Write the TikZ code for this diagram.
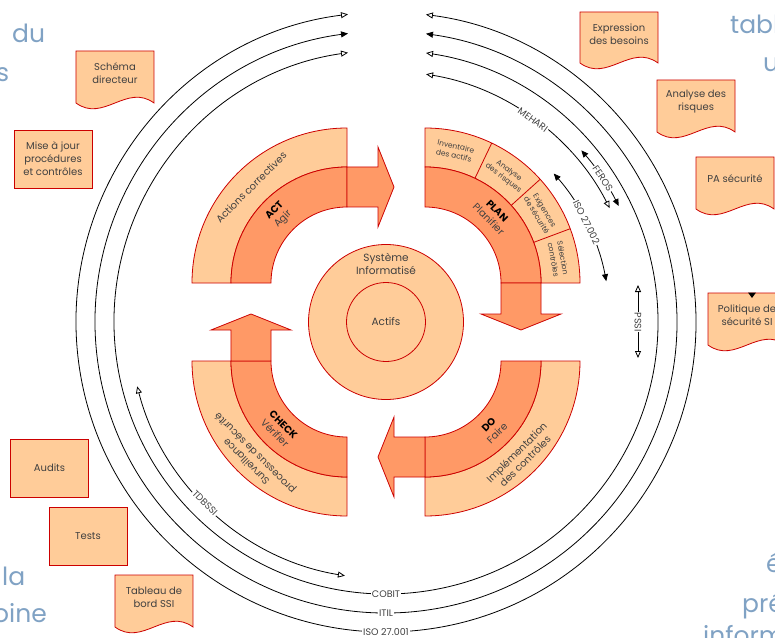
\documentclass[tikz,border=0pt]{standalone}
\usepackage{fontspec}
\setmainfont{Poppins}
\usetikzlibrary{arrows.meta}
\definecolor{lite}{HTML}{FFCC99}
\definecolor{dark}{HTML}{FF9966}
\definecolor{bord}{HTML}{CC0000}
\definecolor{txt}{HTML}{404040}
\definecolor{bgtxt}{RGB}{128,162,196}
\newcommand\docbox[7]{% name, x1, x2, top, baseline, text, extra
  \draw[docst] (#2,#4) -- (#3,#4) -- (#3,#5) .. controls ({#3-0.35*(#3-#2)},{#5+20}) and ({#2+0.35*(#3-#2)},{#5-20}) .. (#2,#5) -- cycle;
  \node[boxtext] (#1) at ({(#2+#3)/2},{#4-22}) {#6};}
\begin{document}
\begin{tikzpicture}[x=1pt,y=1pt,
  lband/.style={fill=lite,draw=bord,line width=0.8pt},
  dband/.style={fill=dark,draw=bord,line width=0.8pt},
  phase/.style={text=txt,font=\fontsize{10}{12}\selectfont,align=center,inner sep=0pt},
  cell/.style={text=txt,font=\fontsize{7.5}{9.5}\selectfont,align=center,inner sep=0pt},
  docst/.style={fill=lite,draw=bord,line width=0.8pt},
  boxtext/.style={text=txt,font=\fontsize{10}{13}\selectfont,align=center,inner sep=0pt},
  rectbox/.style={fill=lite,draw=bord,line width=0.8pt,minimum width=78pt,minimum height=58pt,text=txt,font=\fontsize{10}{13}\selectfont,align=center,inner sep=0pt},
  ring/.style={line width=0.8pt,black},
  oa/.style={arrows={Triangle[open,length=7pt,width=6pt]-Triangle[open,length=7pt,width=6pt]}},
  fa/.style={arrows={Triangle[length=7pt,width=6pt]-Triangle[length=7pt,width=6pt]}},
  arclbl/.style={fill=white,text=txt,font=\fontsize{9.5}{10}\selectfont,inner sep=1pt},
  frag/.style={text=bgtxt,font=\fontsize{25}{28}\selectfont,inner sep=0pt,anchor=base west}
]
\useasboundingbox (-386,-315) rectangle (389,322);
\fill[white] (-386,-315) rectangle (389,322);

% background text fragments
\node[frag] (f1) at (-374,279) {du};
\node[frag] (f2) at (-390,240) {s};
\node[frag] (f3) at (344,288) {tabl};
\node[frag] (f4) at (377,250) {u};
\node[frag] (f5) at (-384,-263) {la};
\node[frag] (f6) at (-393,-300) {oine};
\node[frag] (f7) at (380,-250) {é};
\node[frag] (f8) at (356,-290) {pré};
\node[frag] (f9) at (317,-322) {inform};

% big rings
\draw[ring,oa] (98.03:272) arc[start angle=98.03,end angle=441.54,radius=272];
\draw[ring,fa] (97.5:291) arc[start angle=97.5,end angle=442.1,radius=291];
\draw[ring,oa] (97.04:310) arc[start angle=97.04,end angle=442.6,radius=310];
\node[arclbl] (cobit) at (270:272) {COBIT};
\node[arclbl] (itil) at (270:291) {ITIL};
\node[arclbl] (iso1) at (270:310) {ISO 27.001};

% inner method arcs
\draw[ring,oa] (80.8:251) arc[start angle=80.8,end angle=27,radius=251];
\node[arclbl,rotate=-36] (mehari) at (54:250) {MEHARI};
\draw[ring,fa] (41.3:260) arc[start angle=41.3,end angle=26.5,radius=260];
\node[arclbl,rotate=-56.5] (feros) at (33.5:260) {FEROS};
\draw[ring,fa] (41.5:224) arc[start angle=41.5,end angle=10.5,radius=224];
\node[arclbl,rotate=-63.5] (iso2) at (26.5:224) {ISO 27.002};
\coordinate (pssiA) at (252,37);
\coordinate (pssiB) at (252,-36);
\draw[ring,oa] (pssiA) -- (pssiB);
\node[arclbl,rotate=-90] (pssi) at (252,0) {PSSI};
\draw[ring,oa] (194.5:257) arc[start angle=194.5,end angle=260.8,radius=257];
\node[arclbl,rotate=-45] (tdbssi) at (225:256) {TDBSSI};

% ACT
\begin{scope}[shift={(-39,39)}]
  \path[lband] (90:155) arc[start angle=90,end angle=180,radius=155] -- (180:116) arc[start angle=180,end angle=90,radius=116] -- cycle;
  \path[dband] (90:116) arc[start angle=90,end angle=180,radius=116] -- (180:76) arc[start angle=180,end angle=90,radius=76] -- cycle;
  \node[phase,rotate=45] (actl) at (135:135.5) {Actions correctives};
  \node[phase,rotate=45] (act) at (135:96) {\textbf{\color{black}ACT}\\Agir};
\end{scope}
\path[dband] (-39,115) -- (-8,115) -- (-8,95) -- (8,135) -- (-8,175) -- (-8,155) -- (-39,155) -- cycle;

% PLAN
\begin{scope}[shift={(39,39)}]
  \path[lband] (0:155) arc[start angle=0,end angle=90,radius=155] -- (90:116) arc[start angle=90,end angle=0,radius=116] -- cycle;
  \path[dband] (0:116) arc[start angle=0,end angle=90,radius=116] -- (90:76) arc[start angle=90,end angle=0,radius=76] -- cycle;
  \draw[bord,line width=0.8pt] (64.5:116) -- (64.5:155) (42:116) -- (42:155) (20.5:116) -- (20.5:155);
  \node[cell,rotate=-12.75] (c1) at (77.25:135.5) {Inventaire\\des actifs};
  \node[cell,rotate=-36.75] (c2) at (53.25:135.5) {Analyse\\des risques};
  \node[cell,rotate=-58.75] (c3) at (31.25:135.5) {Exigences\\de sécurité};
  \node[cell,rotate=-79.75] (c4) at (10.25:135.5) {Sélection\\contrôles};
  \node[phase,rotate=-45] (plan) at (45:96) {\textbf{\color{black}PLAN}\\Planifier};
\end{scope}
\path[dband] (115,39) -- (115,8) -- (95,8) -- (135,-8) -- (175,8) -- (155,8) -- (155,39) -- cycle;

% DO
\begin{scope}[shift={(39,-39)}]
  \path[lband] (270:155) arc[start angle=270,end angle=360,radius=155] -- (0:116) arc[start angle=360,end angle=270,radius=116] -- cycle;
  \path[dband] (270:116) arc[start angle=270,end angle=360,radius=116] -- (0:76) arc[start angle=360,end angle=270,radius=76] -- cycle;
  \node[phase,rotate=45] (dol) at (-45:135.5) {Implémentation\\des contrôles};
  \node[phase,rotate=45] (do) at (-45:96) {\textbf{\color{black}DO}\\Faire};
\end{scope}
\path[dband] (39,-115) -- (8,-115) -- (8,-95) -- (-8,-135) -- (8,-175) -- (8,-155) -- (39,-155) -- cycle;

% CHECK
\begin{scope}[shift={(-39,-39)}]
  \path[lband] (180:155) arc[start angle=180,end angle=270,radius=155] -- (270:116) arc[start angle=270,end angle=180,radius=116] -- cycle;
  \path[dband] (180:116) arc[start angle=180,end angle=270,radius=116] -- (270:76) arc[start angle=270,end angle=180,radius=76] -- cycle;
  \node[phase,rotate=135] (checkl) at (225:135.5) {Surveillance\\processus de sécurité};
  \node[phase,rotate=-45] (check) at (225:96) {\textbf{\color{black}CHECK}\\Vérifier};
\end{scope}
\path[dband] (-115,-39) -- (-115,-8) -- (-95,-8) -- (-135,8) -- (-175,-8) -- (-155,-8) -- (-155,-39) -- cycle;

% centre
\node[circle,fill=lite,draw=bord,line width=0.8pt,minimum size=155pt,inner sep=0pt] (si) at (0,0) {};
\node[circle,draw=bord,line width=0.8pt,minimum size=79pt,inner sep=0pt] (actifs) at (0,0) {};
\node[boxtext,font=\fontsize{10.5}{13}\selectfont] (sitxt) at (0,58) {Système\\Informatisé};
\node[boxtext,font=\fontsize{10.5}{13}\selectfont] (actxt) at (0,0) {Actifs};

% documents
\docbox{schema}{-310}{-232}{271}{219}{Schéma\\directeur}{}
\docbox{expr}{194}{272}{310}{259}{Expression\\des besoins}{}
\docbox{anarisk}{271}{349}{242}{190}{Analyse des\\risques}{}
\docbox{pasec}{310}{388}{165}{113}{PA sécurité}{}
\docbox{pssibox}{322}{400}{29}{-23}{Politique de\\sécurité SI}{}
\docbox{tbord}{-271}{-193}{-253}{-305}{Tableau de\\bord SSI}{}
\fill[black] (362,29.5) -- (370,29.5) -- (366,24) -- cycle;

% rectangles
\node[rectbox] (maj) at (-333,163) {Mise à jour\\procédures\\et contrôles};
\node[rectbox] (audits) at (-336.5,-146) {Audits};
\node[rectbox] (tests) at (-298,-214) {Tests};
\end{tikzpicture}
\end{document}
